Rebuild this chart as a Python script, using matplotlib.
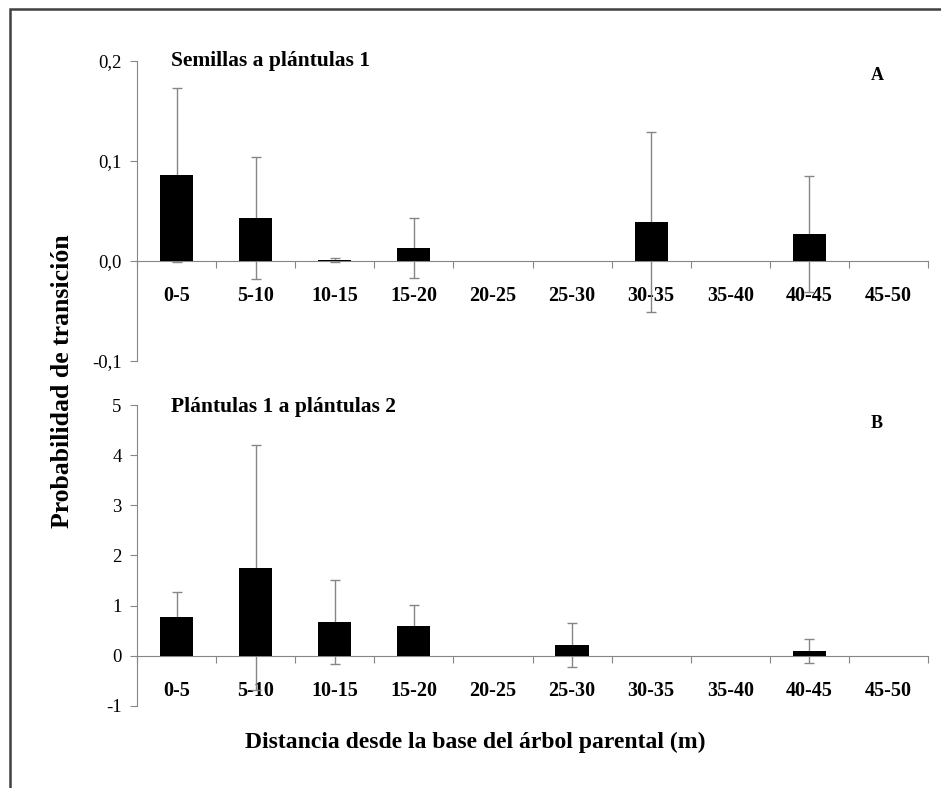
import numpy as np
import matplotlib.pyplot as plt

plt.rcParams['font.family'] = ['Liberation Serif', 'DejaVu Serif']

categorias = ["0-5", "5-10", "10-15", "15-20", "20-25", "25-30",
              "30-35", "35-40", "40-45", "45-50"]

# panel A: semillas a plantulas 1
media_a = [0.086, 0.043, 0.0008, 0.013, 0, 0, 0.039, 0, 0.027, 0]
error_a = [0.087, 0.061, 0.0022, 0.030, 0, 0, 0.090, 0, 0.058, 0]

# panel B: plantulas 1 a plantulas 2
media_b = [0.78, 1.76, 0.68, 0.60, 0, 0.22, 0, 0, 0.10, 0]
error_b = [0.50, 2.44, 0.84, 0.42, 0, 0.44, 0, 0, 0.24, 0]

gris = "#868686"

fig = plt.figure(figsize=(9.41, 7.88), dpi=100)

# marco exterior
marco = plt.Rectangle((10/941, -0.05), 1.0, 1 - 9/788 + 0.05, transform=fig.transFigure,
                      fill=False, edgecolor="#404040", linewidth=1.8)
fig.patches.append(marco)

W, H = 941, 788
def caja(izq, der, arriba, abajo):
    return [izq/W, 1 - abajo/H, (der - izq)/W, (abajo - arriba)/H]

def panel(ax, media, error, ylim, yticks, ylabels, titulo, letra, y_titulo, y_letra):
    # spines primero: set_position reinicia los ticks
    for s in ["top", "right"]:
        ax.spines[s].set_visible(False)
    ax.spines["bottom"].set_position(("data", 0))
    ax.spines["bottom"].set_color(gris)
    ax.spines["left"].set_color(gris)
    ax.patch.set_alpha(0)

    x = np.arange(len(categorias)) + 0.5
    ax.bar(x, media, width=0.42, color="black", zorder=3)
    m = np.array(error) > 0
    ax.errorbar(x[m], np.array(media)[m], yerr=np.array(error)[m], fmt="none",
                ecolor=gris, elinewidth=1, capsize=3.5, capthick=1, zorder=2)
    ax.set_xlim(0, 10)
    ax.set_ylim(*ylim)
    ax.set_yticks(yticks)
    ax.set_yticklabels(ylabels, fontsize=13.5)
    ax.set_xticks(np.arange(0, 11))
    ax.set_xticklabels([])
    ax.set_xticks(x, minor=True)
    ax.set_xticklabels(categorias, minor=True, fontsize=14.5, fontweight="bold")
    ax.tick_params(axis="x", which="minor", length=0, pad=18)
    ax.tick_params(axis="x", which="major", length=5, color=gris, direction="out")
    ax.tick_params(axis="y", length=5, color=gris, direction="out", pad=6)

    fig.text(171/W, 1 - y_titulo/H, titulo, fontsize=15.5, fontweight="bold",
             ha="left", va="center")
    fig.text(877/W, 1 - y_letra/H, letra, fontsize=13, fontweight="bold",
             ha="center", va="center")

ax_a = fig.add_axes(caja(137, 928, 61, 361))
panel(ax_a, media_a, error_a, (-0.1, 0.2), [-0.1, 0, 0.1, 0.2],
      ["-0,1", "0,0", "0,1", "0,2"], "Semillas a plántulas 1", "A", 61, 75)

ax_b = fig.add_axes(caja(137, 928, 405, 706))
panel(ax_b, media_b, error_b, (-1, 5), [-1, 0, 1, 2, 3, 4, 5],
      ["-1", "0", "1", "2", "3", "4", "5"], "Plántulas 1 a plántulas 2", "B", 407, 423)

fig.text(63/W, 1 - 381/H, "Probabilidad de transición", rotation=90, fontsize=18.5,
         fontweight="bold", ha="center", va="center")
fig.text(475/W, 1 - 742/H, "Distancia desde la base del árbol parental (m)", fontsize=17,
         fontweight="bold", ha="center", va="center")

fig.savefig("out.png", dpi=100)
